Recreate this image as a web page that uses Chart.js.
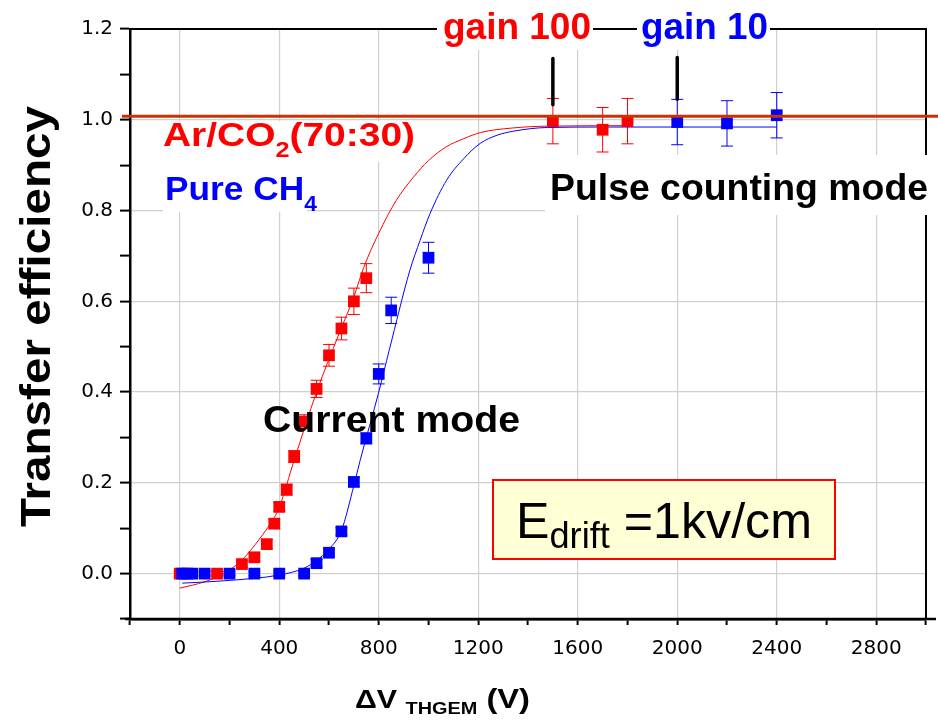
<!DOCTYPE html>
<html>
<head>
<meta charset="utf-8">
<title>Transfer efficiency vs ΔV THGEM</title>
<script src="https://cdn.jsdelivr.net/npm/chart.js@4.4.1/dist/chart.umd.min.js"></script>
<style>
    html, body { margin: 0; padding: 0; background: #fff; }
    #wrap { width: 938px; height: 726px; }
</style>
</head>
<body>
<div id="wrap"><canvas id="effChart" width="938" height="726"></canvas></div>
<script>
// Ar/CO2 (70:30) measurements: ΔV_THGEM (V), efficiency, error
const arVoltage = [0, 150, 250, 300, 350, 380, 400, 430, 460, 500, 550, 600, 650, 700, 750, 1500, 1700, 1800];
const arEff     = [0, 0, 0.021, 0.036, 0.065, 0.11, 0.147, 0.185, 0.258, 0.335, 0.407, 0.481, 0.54, 0.6, 0.651, 0.997, 0.978, 0.997];
const arErr     = [0.005, 0.005, 0.008, 0.008, 0.01, 0.01, 0.01, 0.012, 0.013, 0.015, 0.019, 0.024, 0.025, 0.029, 0.032, 0.05, 0.049, 0.05];

// Pure CH4 measurements
const chVoltage = [10, 30, 50, 100, 200, 300, 400, 500, 550, 600, 650, 700, 750, 800, 850, 1000, 2000, 2200, 2400];
const chEff     = [0, 0, 0, 0, 0, 0, 0, 0, 0.023, 0.046, 0.093, 0.202, 0.298, 0.44, 0.58, 0.696, 0.995, 0.992, 1.01];
const chErr     = [0.005, 0.005, 0.005, 0.005, 0.005, 0.005, 0.005, 0.005, 0.008, 0.008, 0.008, 0.01, 0.012, 0.022, 0.029, 0.034, 0.05, 0.05, 0.05];

// fitted curves (sampled)
const arFitVoltage = [0, 100, 180, 250, 320, 380, 400, 460, 550, 640, 700, 740, 800, 870, 940, 1000, 1070, 1140, 1210, 1340, 1480, 1800];
const arFitEff     = [-0.032, -0.018, 0.001, 0.03, 0.076, 0.124, 0.146, 0.25, 0.4, 0.528, 0.61, 0.675, 0.75, 0.822, 0.874, 0.91, 0.94, 0.958, 0.972, 0.982, 0.986, 0.987];
const chFitVoltage = [10, 200, 400, 500, 550, 600, 650, 700, 725, 800, 842, 925, 966, 1006, 1073, 1141, 1208, 1276, 1343, 1478, 1700, 2400];
const chFitEff     = [-0.021, -0.015, -0.003, 0.012, 0.029, 0.054, 0.095, 0.194, 0.249, 0.4, 0.492, 0.668, 0.734, 0.793, 0.867, 0.914, 0.948, 0.966, 0.975, 0.983, 0.984, 0.984];

// pulse counting mode markers (gain 100 / gain 10) and the unity line
const gainVoltage     = [1500, 2000];
const gainArrowTop    = [1.135, 1.137];
const gainArrowBottom = [1.033, 1.045];
const unityLevel = 1.008;

const xTickLabels = [0, 400, 800, 1200, 1600, 2000, 2400, 2800];
const yTickLabels = ['0.0', '0.2', '0.4', '0.6', '0.8', '1.0', '1.2'];

const RED = '#ff0000';
const BLUE = '#0000ff';
const GRID = '#cfcfcf';

const toPoints = (xs, ys) => xs.map((x, i) => ({ x: x, y: ys[i] }));

// draws text made of several font runs, squeezed/stretched to a given width
function drawRich(ctx, segs, x, y, width, color) {
    ctx.save();
    let total = 0;
    segs.forEach(s => {
        ctx.font = s.font;
        s.w = ctx.measureText(s.text).width;
        total += s.w;
    });
    ctx.translate(x, y);
    ctx.scale(width / total, 1);
    ctx.fillStyle = color;
    ctx.textAlign = 'left';
    ctx.textBaseline = 'alphabetic';
    let cx = 0;
    segs.forEach(s => {
        ctx.font = s.font;
        ctx.fillText(s.text, cx, s.dy || 0);
        cx += s.w;
    });
    ctx.restore();
}

function drawErrorBars(chart, xs, ys, errs, color) {
    const { ctx, scales: { x, y } } = chart;
    ctx.save();
    ctx.strokeStyle = color;
    ctx.lineWidth = 1;
    xs.forEach((v, i) => {
        const px = x.getPixelForValue(v);
        const top = y.getPixelForValue(ys[i] + errs[i]);
        const bot = y.getPixelForValue(ys[i] - errs[i]);
        ctx.beginPath();
        ctx.moveTo(px, top); ctx.lineTo(px, bot);
        ctx.moveTo(px - 6, top); ctx.lineTo(px + 6, top);
        ctx.moveTo(px - 6, bot); ctx.lineTo(px + 6, bot);
        ctx.stroke();
    });
    ctx.restore();
}

const BOLD = 'bold 34px "Liberation Sans"';

const decorations = {
    id: 'decorations',
    beforeDatasetsDraw(chart) {
        const { ctx, chartArea: { left, right, top, bottom } } = chart;
        ctx.save();
        // top and right frame
        ctx.strokeStyle = '#000';
        ctx.lineWidth = 2;
        ctx.beginPath();
        ctx.moveTo(left, top);
        ctx.lineTo(right, top);
        ctx.lineTo(right, bottom);
        ctx.stroke();

        // white backing behind the text labels
        ctx.fillStyle = '#fff';
        [[437, 0, 156, 50], [637, 0, 133, 50], [160, 121, 260, 41],
         [163, 160, 144, 52], [545, 155, 393, 60]].forEach(b => ctx.fillRect(b[0], b[1], b[2], b[3]));

        // drift field box
        ctx.fillStyle = '#ffffd6';
        ctx.fillRect(493, 480, 342, 79);
        ctx.strokeStyle = RED;
        ctx.lineWidth = 2;
        ctx.strokeRect(493, 480, 342, 79);
        ctx.restore();

        drawErrorBars(chart, arVoltage, arEff, arErr, RED);
        drawErrorBars(chart, chVoltage, chEff, chErr, BLUE);
    },
    afterDatasetsDraw(chart) {
        const { ctx, scales: { x, y }, chartArea: { left, bottom } } = chart;
        ctx.save();

        // x axis runs a little past both ends
        ctx.strokeStyle = '#000';
        ctx.lineWidth = 2.5;
        ctx.beginPath();
        ctx.moveTo(125, bottom);
        ctx.lineTo(936, bottom);
        ctx.stroke();

        // unity line
        const yu = y.getPixelForValue(unityLevel);
        ctx.strokeStyle = '#cc3300';
        ctx.lineWidth = 3;
        ctx.beginPath();
        ctx.moveTo(left - 8, yu);
        ctx.lineTo(938, yu);
        ctx.stroke();

        // gain markers
        ctx.strokeStyle = '#000';
        ctx.lineWidth = 3.5;
        ctx.lineCap = 'round';
        gainVoltage.forEach((v, i) => {
            const px = x.getPixelForValue(v);
            ctx.beginPath();
            ctx.moveTo(px, y.getPixelForValue(gainArrowTop[i]));
            ctx.lineTo(px, y.getPixelForValue(gainArrowBottom[i]));
            ctx.stroke();
        });
        ctx.restore();

        drawRich(ctx, [{ text: 'gain 100', font: 'bold 37px "Liberation Sans"' }], 443, 39, 148, RED);
        drawRich(ctx, [{ text: 'gain 10', font: 'bold 37px "Liberation Sans"' }], 641, 39, 127, BLUE);
        drawRich(ctx, [
            { text: 'Ar/CO', font: BOLD },
            { text: '2', font: 'bold 22px "Liberation Sans"', dy: 11 },
            { text: '(70:30)', font: BOLD }
        ], 163, 146, 252, RED);
        drawRich(ctx, [
            { text: 'Pure CH', font: BOLD },
            { text: '4', font: 'bold 22px "Liberation Sans"', dy: 11 }
        ], 165, 200, 152, BLUE);
        drawRich(ctx, [{ text: 'Pulse counting mode', font: 'bold 37px "Liberation Sans"' }], 550, 200, 378, '#000');
        drawRich(ctx, [{ text: 'Current mode', font: 'bold 37px "Liberation Sans"' }], 263, 432, 257, '#000');
        drawRich(ctx, [
            { text: 'E', font: '50px "Liberation Sans"' },
            { text: 'drift', font: '36px "Liberation Sans"', dy: 10 },
            { text: ' =1kv/cm', font: '50px "Liberation Sans"' }
        ], 516, 538, 296, '#000');
    },
    afterDraw(chart) {
        const { ctx } = chart;
        // y axis title
        ctx.save();
        ctx.translate(35, 317);
        ctx.rotate(-Math.PI / 2);
        drawRich(ctx, [{ text: 'Transfer efficiency', font: 'bold 42px "Liberation Sans"' }], -210, 15, 421, '#000');
        ctx.restore();
        // x axis title
        drawRich(ctx, [
            { text: 'ΔV ', font: 'bold 26px "Liberation Sans"' },
            { text: 'THGEM', font: 'bold 17px "Liberation Sans"', dy: 6 },
            { text: ' (V)', font: 'bold 28px "Liberation Sans"' }
        ], 355, 708, 175, '#000');
    }
};

const tenths = v => Math.round(v * 10);

new Chart(document.getElementById('effChart'), {
    type: 'scatter',
    data: {
        datasets: [
            {
                label: 'Pure CH4',
                data: toPoints(chVoltage, chEff),
                backgroundColor: BLUE,
                pointStyle: 'rect',
                pointRadius: 8.3,
                borderWidth: 0,
                order: 0
            },
            {
                label: 'Ar/CO2 (70:30)',
                data: toPoints(arVoltage, arEff),
                backgroundColor: RED,
                pointStyle: 'rect',
                pointRadius: 8.3,
                borderWidth: 0,
                order: 1
            },
            {
                type: 'line',
                label: 'Pure CH4 fit',
                data: toPoints(chFitVoltage, chFitEff),
                borderColor: BLUE,
                borderWidth: 1,
                pointRadius: 0,
                cubicInterpolationMode: 'monotone',
                fill: false,
                order: 2
            },
            {
                type: 'line',
                label: 'Ar/CO2 fit',
                data: toPoints(arFitVoltage, arFitEff),
                borderColor: RED,
                borderWidth: 1,
                pointRadius: 0,
                cubicInterpolationMode: 'monotone',
                fill: false,
                order: 3
            }
        ]
    },
    options: {
        responsive: false,
        animation: false,
        events: [],
        layout: { padding: { left: 0, top: 29, right: 12, bottom: 0 } },
        plugins: {
            legend: { display: false },
            tooltip: { enabled: false }
        },
        scales: {
            x: {
                type: 'linear',
                min: -200,
                max: 3000,
                afterFit: s => { s.height = 107; },
                ticks: {
                    stepSize: 200,
                    autoSkip: false,
                    maxRotation: 0,
                    padding: 12,
                    color: '#000',
                    font: { family: 'DejaVu Sans', size: 20 },
                    callback: v => xTickLabels.includes(v) ? String(v) : ''
                },
                grid: {
                    color: c => (c.tick && xTickLabels.includes(c.tick.value)) ? GRID : 'rgba(0,0,0,0)',
                    lineWidth: 1.2,
                    tickColor: '#000',
                    tickLength: 6,
                    tickWidth: 2
                },
                border: { color: '#000', width: 2.5 }
            },
            y: {
                type: 'linear',
                min: -0.1,
                max: 1.2,
                afterFit: s => { s.width = 130; },
                ticks: {
                    stepSize: 0.1,
                    autoSkip: false,
                    padding: 7,
                    color: '#000',
                    font: { family: 'DejaVu Sans', size: 20 },
                    callback: v => {
                        const t = (tenths(v) / 10).toFixed(1);
                        return yTickLabels.includes(t) ? t : '';
                    }
                },
                grid: {
                    color: c => {
                        if (!c.tick) return 'rgba(0,0,0,0)';
                        const k = tenths(c.tick.value);
                        return (k >= 0 && k < 12 && k % 2 === 0) ? GRID : 'rgba(0,0,0,0)';
                    },
                    lineWidth: 1.2,
                    tickColor: '#000',
                    tickLength: 10,
                    tickWidth: 2
                },
                border: { color: '#000', width: 2.5 }
            }
        }
    },
    plugins: [decorations]
});
</script>
</body>
</html>
